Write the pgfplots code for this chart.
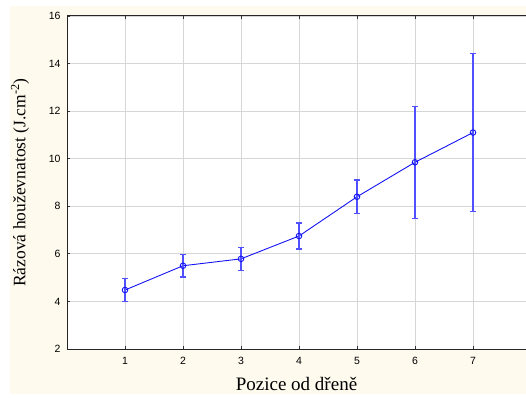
\documentclass[border=0pt]{standalone}
\usepackage{pgfplots}
\pgfplotsset{compat=1.18}
\usepackage{fontspec}
\setmainfont{Liberation Serif}
\newfontfamily\arial{Liberation Sans}
\definecolor{cream}{RGB}{254,250,238}
\definecolor{lineblue}{RGB}{20,20,245}
\definecolor{ebblue}{RGB}{80,80,255}
\begin{document}
\begin{tikzpicture}
\useasboundingbox (0,0) rectangle (526pt,397pt);
\fill[white] (0,0) rectangle (526pt,397pt);
\fill[cream] (10pt,3pt) rectangle (526pt,391pt);
\begin{axis}[
  at={(67pt,48pt)}, anchor=south west,
  scale only axis, width=459pt, height=333pt,
  xmin=0, xmax=7.914, ymin=2, ymax=16,
  xtick={1,...,7}, ytick={2,4,...,16},
  axis x line=box, axis y line=left,
  axis line style={-, black!85, line width=1pt},
  axis background/.style={fill=white},
  grid=major,
  major grid style={black!16, line width=0.8pt},
  tick align=inside, major tick length=3pt,
  tick style={black!80, line width=0.8pt},
  /pgf/number format/assume math mode=true,
  ticklabel style={font=\arial\fontsize{10.5}{12}\selectfont},
  xticklabel style={yshift=-5pt},
  yticklabel style={xshift=-3pt},
  xlabel={\fontsize{19}{21}\selectfont Pozice od dřeně},
  ylabel={\fontsize{17.5}{20}\selectfont Rázová houževnatost (J.cm\textsuperscript{-2})},
  xlabel style={at={(axis description cs:0.5,-0.1051)}, anchor=center},
  ylabel style={at={(axis description cs:-0.1024,0.5)}, anchor=center},
]
\addplot[lineblue, line width=0.9pt, mark=o, mark size=2.8pt,
  mark options={lineblue, line width=0.9pt},
  error bars/.cd, y dir=both, y explicit,
  error bar style={color=ebblue, line width=1.3pt},
  error mark options={rotate=90, mark size=3pt, ebblue, line width=1.3pt}]
coordinates {
  (1,4.48) +- (0,0.47)
  (2,5.50) +- (0,0.47)
  (3,5.79) +- (0,0.48)
  (4,6.75) +- (0,0.55)
  (5,8.40) +- (0,0.70)
  (6,9.85) +- (0,2.35)
  (7,11.10) +- (0,3.32)
};
\end{axis}
\end{tikzpicture}
\end{document}
